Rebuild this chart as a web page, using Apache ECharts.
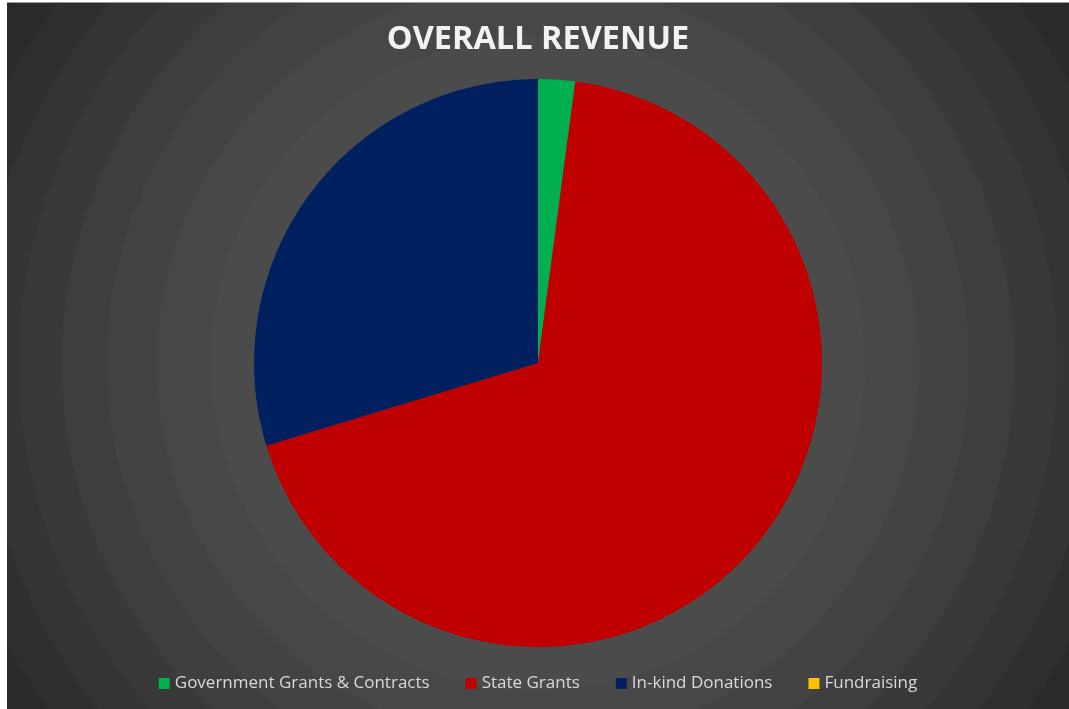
<!DOCTYPE html>
<html>
<head>
<meta charset="utf-8">
<script src="https://cdn.jsdelivr.net/npm/echarts@6/dist/echarts.min.js"></script>
<style>
  html, body { margin: 0; padding: 0; background: #ffffff; }
  #chart {
    position: absolute;
    left: 7px;
    top: 2px;
    width: 1062px;
    height: 707px;
    border-top: 1px solid #9a9a9a;
    box-sizing: border-box;
    /* banded radial fill like the spreadsheet chart area */
    background: radial-gradient(circle at 531px 360px,
      #4b4b4b 0px, #4b4b4b 327px,
      #474747 327px, #474747 381px,
      #434343 381px, #434343 431px,
      #3e3e3e 431px, #3e3e3e 476px,
      #393939 476px, #393939 519px,
      #343434 519px, #343434 560px,
      #2f2f2f 560px, #2f2f2f 600px,
      #2a2a2a 600px, #2a2a2a 640px,
      #252525 640px);
  }
</style>
</head>
<body>
<div id="chart"></div>
<script>
  // revenue share (percent)
  const categories = ["Government Grants & Contracts", "State Grants", "In-kind Donations", "Fundraising"];
  const values = [2.1, 68.2, 29.7, 0];
  const colors = ["#00b050", "#c00000", "#002060", "#ffc000"];

  const chart = echarts.init(document.getElementById("chart"));

  const option = {
    backgroundColor: "transparent",
    title: {
      text: "OVERALL REVENUE",
      left: "center",
      top: 15,
      textStyle: {
        color: "#f2f2f2",
        fontFamily: "Open Sans",
        fontWeight: "bold",
        fontSize: 32.5,
      },
    },
    legend: {
      data: categories,
      left: "center",
      top: 667,
      icon: "rect",
      itemWidth: 11,
      itemHeight: 11,
      itemGap: 36,
      textStyle: {
        color: "#d9d9d9",
        fontFamily: "Open Sans",
        fontSize: 17,
      },
    },
    series: [
      {
        type: "pie",
        center: [531, 360],
        radius: 284,
        startAngle: 90,
        clockwise: true,
        label: { show: false },
        labelLine: { show: false },
        emphasis: { disabled: true },
        itemStyle: { borderWidth: 0 },
        data: categories.map((name, i) => ({
          name: name,
          value: values[i],
          itemStyle: { color: colors[i] },
        })),
      },
    ],
  };
  chart.setOption(option);
</script>
</body>
</html>
